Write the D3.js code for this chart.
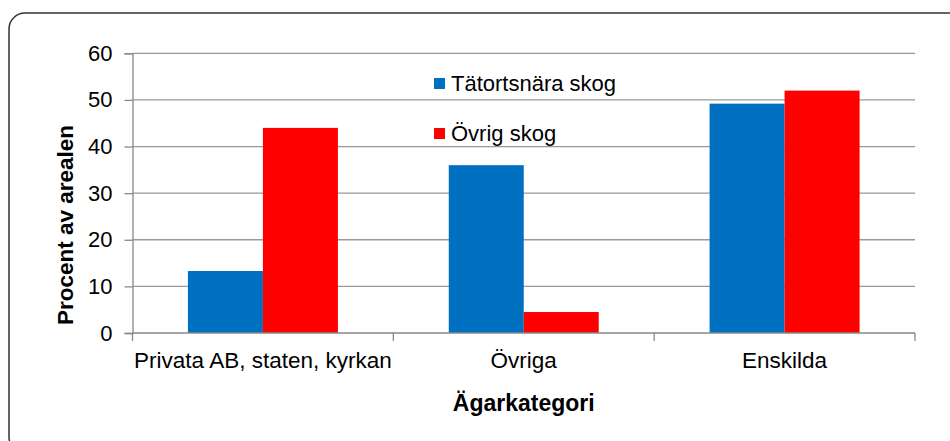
<!DOCTYPE html>
<html>
<head>
<meta charset="utf-8">
<script src="https://cdn.jsdelivr.net/npm/d3@7"></script>
<style>
  body { margin: 0; background: #fff; }
  text { font-family: "Liberation Sans", Arial, sans-serif; }
</style>
</head>
<body>
<div id="chart"></div>
<script>
// owner categories and the two series (percent of area)
var categories = ["Privata AB, staten, kyrkan", "Övriga", "Enskilda"];
var series = ["Tätortsnära skog", "Övrig skog"];
var tatortsnara = [13.3, 36, 49.2];
var ovrig = [44, 4.5, 52];
var yTicks = [0, 10, 20, 30, 40, 50, 60];
var colors = ["#0070c0", "#ff0000"];

var width = 950, height = 441;
var margin = {top: 53.3, right: 35, bottom: 108, left: 132.5};

var svg = d3.select("#chart").append("svg")
    .attr("width", width)
    .attr("height", height);

// outer rounded frame
svg.append("rect")
    .attr("x", 9).attr("y", 13)
    .attr("width", 1000).attr("height", 440)
    .attr("rx", 16).attr("ry", 16)
    .attr("fill", "none")
    .attr("stroke", "#333")
    .attr("stroke-width", 1.5);

var x0 = d3.scaleBand()
    .domain(categories)
    .range([margin.left, width - margin.right])
    .paddingInner(0.425)
    .paddingOuter(0.2125);

var x1 = d3.scaleBand()
    .domain(series)
    .range([0, x0.bandwidth()]);

var y = d3.scaleLinear()
    .domain([0, 60])
    .range([height - margin.bottom, margin.top]);

// gridlines
svg.append("g")
    .selectAll("line")
    .data(yTicks.filter(d => d > 0))
    .enter().append("line")
    .attr("x1", margin.left).attr("x2", width - margin.right)
    .attr("y1", d => y(d)).attr("y2", d => y(d))
    .attr("stroke", "#999")
    .attr("stroke-width", 1.3);

// bars
var rows = categories.map((c, i) => ({cat: c, vals: [tatortsnara[i], ovrig[i]]}));
var groups = svg.append("g").selectAll("g")
    .data(rows)
    .enter().append("g")
    .attr("transform", d => `translate(${x0(d.cat)},0)`);

groups.selectAll("rect")
    .data(d => d.vals.map((v, j) => ({s: series[j], v: v, c: colors[j]})))
    .enter().append("rect")
    .attr("x", d => x1(d.s))
    .attr("y", d => y(d.v))
    .attr("width", x1.bandwidth())
    .attr("height", d => y(0) - y(d.v))
    .attr("fill", d => d.c);

// y axis
var yAxis = svg.append("g")
    .attr("transform", `translate(${margin.left},0)`)
    .call(d3.axisLeft(y).tickValues(yTicks).tickSize(8).tickPadding(12));
yAxis.select(".domain").attr("stroke", "#888").attr("stroke-width", 1.3);
yAxis.selectAll(".tick line").attr("stroke", "#888").attr("stroke-width", 1.3);
yAxis.selectAll("text").style("font-size", "22px").attr("fill", "#000");

// x axis: ticks at category boundaries
var step = x0.step();
var bounds = d3.range(categories.length + 1).map(i => margin.left + i * step);
var xAxisG = svg.append("g");
xAxisG.append("line")
    .attr("x1", margin.left).attr("x2", width - margin.right)
    .attr("y1", y(0)).attr("y2", y(0))
    .attr("stroke", "#888").attr("stroke-width", 1.3);
xAxisG.selectAll("line.tk")
    .data(bounds)
    .enter().append("line")
    .attr("class", "tk")
    .attr("x1", d => d).attr("x2", d => d)
    .attr("y1", y(0)).attr("y2", y(0) + 8)
    .attr("stroke", "#888").attr("stroke-width", 1.3);
xAxisG.selectAll("text")
    .data(categories)
    .enter().append("text")
    .attr("x", d => x0(d) + x0.bandwidth() / 2)
    .attr("y", 368)
    .attr("text-anchor", "middle")
    .style("font-size", "22.5px")
    .text(d => d);

// axis titles
svg.append("text")
    .attr("x", (margin.left + width - margin.right) / 2)
    .attr("y", 411)
    .attr("text-anchor", "middle")
    .style("font-size", "23px")
    .style("font-weight", "bold")
    .text("Ägarkategori");

svg.append("text")
    .attr("transform", "translate(73,225) rotate(-90)")
    .attr("text-anchor", "middle")
    .style("font-size", "22.5px")
    .style("font-weight", "bold")
    .text("Procent av arealen");

// legend
var legend = svg.append("g").selectAll("g")
    .data(series)
    .enter().append("g")
    .attr("transform", (d, i) => `translate(434,${78 + i * 50})`);
legend.append("rect")
    .attr("width", 11).attr("height", 11)
    .attr("fill", (d, i) => colors[i]);
legend.append("text")
    .attr("x", 17).attr("y", 12.5)
    .style("font-size", "22px")
    .text(d => d);
</script>
</body>
</html>
